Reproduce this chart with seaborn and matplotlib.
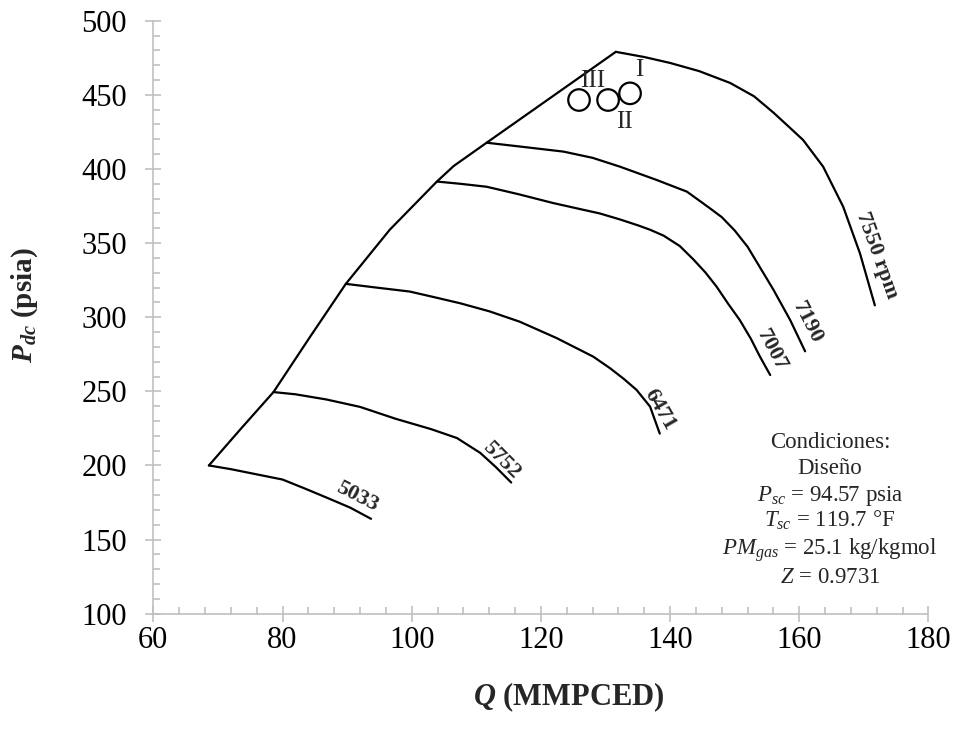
import matplotlib
matplotlib.use("Agg")
import matplotlib.pyplot as plt
from matplotlib.ticker import MultipleLocator, AutoMinorLocator
import seaborn as sns
import pandas as pd

# Compressor performance map: discharge pressure vs. flow at several speeds
speed_labels = ["5033", "5752", "6471", "7007", "7190", "7550 rpm"]

q_5033 = [68.6, 72.0, 76.0, 80.0, 83.7, 87.0, 90.5, 93.7]
p_5033 = [200.0, 197.5, 194.0, 190.5, 184.0, 178.0, 171.5, 164.0]

q_5752 = [78.6, 82.0, 86.8, 92.0, 97.5, 103.0, 107.0, 110.6, 113.0, 115.4]
p_5752 = [249.5, 248.0, 244.5, 239.5, 231.5, 224.5, 218.5, 208.5, 199.0, 188.5]

q_6471 = [89.8, 94.5, 99.7, 103.5, 107.5, 112.0, 116.7, 122.4, 128.1, 130.7, 132.8, 134.8, 136.9, 138.4]
p_6471 = [322.5, 320.0, 317.3, 313.5, 309.4, 304.0, 297.0, 286.0, 273.4, 265.6, 258.5, 251.0, 239.7, 221.5]

q_7007 = [103.9, 107.5, 111.6, 116.5, 121.9, 126.0, 129.1, 132.2, 135.0, 136.9, 139.0, 141.5,
          143.6, 145.5, 147.2, 149.0, 150.8, 152.5, 153.9, 155.5]
p_7007 = [391.5, 390.0, 388.0, 383.0, 377.0, 373.0, 370.0, 366.0, 362.0, 359.0, 355.0, 348.0,
          339.0, 330.0, 320.6, 309.0, 298.0, 285.5, 273.5, 261.0]

q_7190 = [111.6, 117.0, 123.5, 128.0, 132.2, 137.9, 142.6, 146.0, 148.0, 150.0, 152.0, 154.0,
          156.0, 158.6, 160.9]
p_7190 = [417.7, 415.0, 411.7, 407.5, 401.6, 392.6, 384.7, 374.0, 367.5, 358.5, 347.5, 333.0,
          318.5, 298.0, 277.0]

q_7550 = [131.6, 136.0, 140.0, 144.5, 149.3, 153.0, 156.0, 158.5, 160.6, 163.7, 166.8, 169.4, 171.7]
p_7550 = [479.0, 475.5, 471.5, 466.0, 458.0, 449.0, 438.0, 428.0, 419.5, 401.5, 374.5, 343.0, 308.0]

# Surge line joining the start of each speed curve
q_surge = [68.6, 73.5, 78.6, 84.3, 89.8, 96.6, 103.9, 106.5, 111.6, 131.6]
p_surge = [200.0, 224.5, 249.5, 287.0, 322.5, 359.0, 391.5, 402.0, 417.7, 479.0]

# Operating points
op_names = ["I", "II", "III"]
op_q = [133.8, 130.4, 125.9]
op_p = [451.0, 446.5, 446.5]

curves = [(q_5033, p_5033), (q_5752, p_5752), (q_6471, p_6471),
          (q_7007, p_7007), (q_7190, p_7190), (q_7550, p_7550)]

sns.set_theme(style="white")
plt.rcParams["font.family"] = ["Liberation Serif", "DejaVu Serif"]
plt.rcParams["mathtext.fontset"] = "custom"
plt.rcParams["mathtext.rm"] = "Liberation Serif"
plt.rcParams["mathtext.it"] = "Liberation Serif:italic"
plt.rcParams["mathtext.bf"] = "Liberation Serif:bold"
plt.rcParams["mathtext.bfit"] = "Liberation Serif:bold:italic"

fig = plt.figure(figsize=(9.56, 7.42), dpi=100)
ax = fig.add_axes([0.1604, 0.1729, 0.8108, 0.7992])

frames = []
for name, (q, p) in zip(speed_labels, curves):
    frames.append(pd.DataFrame({"Q": q, "P": p, "speed": name}))
frames.append(pd.DataFrame({"Q": q_surge, "P": p_surge, "speed": "surge"}))
df = pd.concat(frames, ignore_index=True)

for name, sub in df.groupby("speed", sort=False):
    sns.lineplot(data=sub, x="Q", y="P", ax=ax, color="black", linewidth=1.6,
                 sort=False, estimator=None, legend=False)

ops = pd.DataFrame({"Q": op_q, "P": op_p, "name": op_names})
sns.scatterplot(data=ops, x="Q", y="P", ax=ax, marker="o", s=240,
                facecolor="none", edgecolor="black", linewidth=1.6, legend=False, zorder=5)

# Labels for the operating points
op_label_pos = [(135.2, 466.5), (133.0, 432.0), (128.0, 459.5)]
for name, (lx, ly) in zip(op_names, op_label_pos):
    ax.text(lx, ly, name, fontsize=18, ha="center", va="center")

# Speed labels written along each curve
speed_label_pos = [(91.5, 178.8, -27), (113.8, 203.3, -45), (138.4, 237.6, -60),
                   (155.7, 277.5, -62), (161.2, 296.4, -63), (172.0, 342.0, -70)]
for name, (lx, ly, rot) in zip(speed_labels, speed_label_pos):
    ax.text(lx, ly, name, fontsize=16, fontweight="bold", rotation=rot,
            ha="center", va="center", rotation_mode="anchor")

# Design conditions note
note_lines = ["Condiciones:", "Diseño", r"$P_{sc}$ = 94.57 psia", r"$T_{sc}$ = 119.7 °F",
              r"$PM_{gas}$ = 25.1 kg/kgmol", r"$Z$ = 0.9731"]
note_y = [212.1, 194.3, 176.1, 158.8, 139.7, 120.6]
for line, y in zip(note_lines, note_y):
    ax.text(164.75, y, line, fontsize=16.5, ha="center", va="baseline", clip_on=False)

ax.set_xlim(60, 180)
ax.set_ylim(100, 500)
ax.xaxis.set_major_locator(MultipleLocator(20))
ax.yaxis.set_major_locator(MultipleLocator(50))
ax.xaxis.set_minor_locator(AutoMinorLocator(5))
ax.yaxis.set_minor_locator(AutoMinorLocator(5))

for side in ["top", "right"]:
    ax.spines[side].set_visible(False)
for side in ["left", "bottom"]:
    ax.spines[side].set_color("#c0c0c0")
    ax.spines[side].set_linewidth(1.2)

ax.tick_params(axis="both", which="both", bottom=True, left=True, top=False, right=False)
ax.tick_params(axis="both", which="major", direction="inout", length=12, width=1.2,
               color="#c0c0c0", labelsize=22, labelcolor="black")
ax.tick_params(axis="both", which="minor", direction="in", length=5, width=1.2,
               color="#c0c0c0")
ax.tick_params(axis="x", which="major", pad=3)
ax.tick_params(axis="y", which="major", pad=13)

ax.set_xlabel(r"$\mathbfit{Q}$ (MMPCED)", fontsize=22, fontweight="bold")
ax.set_ylabel(r"$\mathbfit{P}_{\mathbfit{dc}}$ (psia)", fontsize=21, fontweight="bold")
ax.xaxis.label.set_va("center")
ax.yaxis.label.set_va("center")
ax.xaxis.set_label_coords(0.536, -0.1405)
ax.yaxis.set_label_coords(-0.1655, 0.52)

fig.savefig("out.png", dpi=100, facecolor="white")
